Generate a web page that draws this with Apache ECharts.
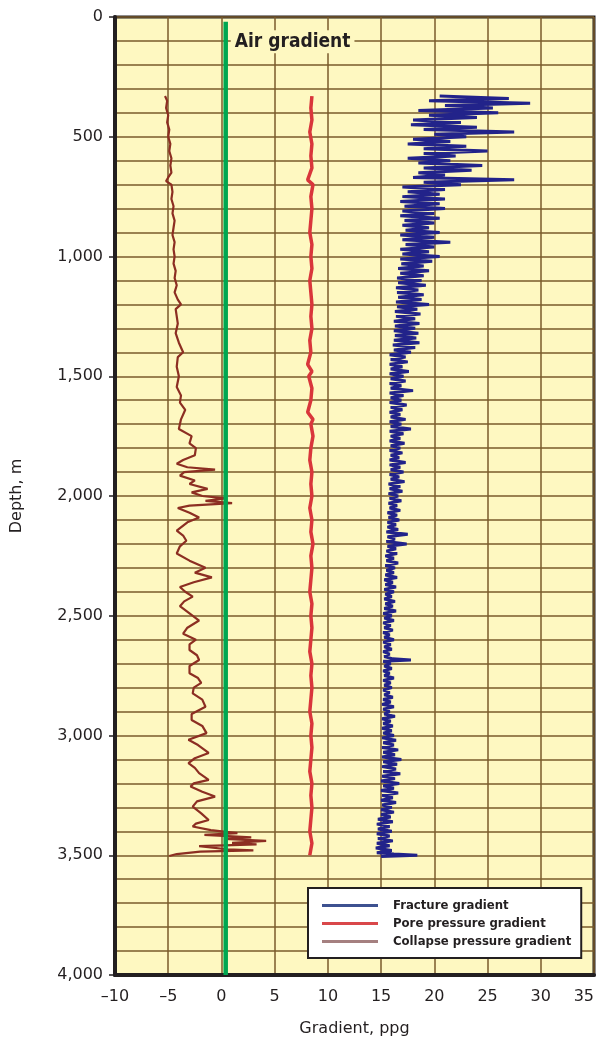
<!DOCTYPE html>
<html>
<head>
<meta charset="utf-8">
<style>
  html, body { margin: 0; padding: 0; background: #fff; }
  #chart { width: 598px; height: 1039px; }
</style>
<script src="https://cdn.jsdelivr.net/npm/echarts@6/dist/echarts.min.js"></script>
</head>
<body>
<div id="chart"></div>
<script>
// depth (m), gradient (ppg)
const collapse = [
  [330,-5.3],[350,-5.1],[380,-5.2],[410,-5.0],[440,-5.1],[470,-4.9],[500,-5.0],[530,-4.8],[560,-4.9],[590,-4.7],
  [620,-4.8],[650,-4.7],[670,-5.0],[685,-5.2],[700,-4.7],[730,-4.6],[760,-4.7],[790,-4.5],[820,-4.6],[850,-4.4],
  [880,-4.5],[910,-4.6],[940,-4.4],[970,-4.5],[1000,-4.4],[1030,-4.5],[1060,-4.3],[1090,-4.4],[1120,-4.2],[1150,-4.4],
  [1180,-4.1],[1200,-3.8],[1220,-4.3],[1250,-4.2],[1280,-4.1],[1320,-4.3],[1360,-4.0],[1400,-3.6],[1420,-4.1],[1460,-4.2],
  [1500,-4.0],[1545,-4.2],[1580,-3.8],[1610,-3.9],[1640,-3.4],[1680,-3.8],[1720,-4.0],[1750,-2.8],[1780,-3.0],[1800,-2.4],
  [1830,-2.5],[1850,-3.6],[1865,-4.2],[1880,-3.2],[1890,-0.6],[1900,-3.5],[1915,-3.9],[1935,-2.5],[1950,-3.0],[1970,-1.3],
  [1985,-2.8],[2000,-1.8],[2010,0.4],[2020,-1.5],[2030,1.0],[2040,-3.0],[2050,-4.1],[2070,-3.0],[2090,-2.1],[2110,-3.2],
  [2145,-4.2],[2165,-3.6],[2187,-3.3],[2210,-3.9],[2240,-4.2],[2270,-3.0],[2300,-1.5],[2320,-2.5],[2340,-0.9],[2360,-2.6],
  [2380,-3.9],[2400,-3.4],[2420,-2.7],[2440,-3.5],[2460,-3.9],[2490,-3.0],[2520,-2.1],[2550,-3.2],[2575,-3.6],[2600,-2.4],
  [2620,-3.0],[2643,-3.0],[2665,-2.3],[2685,-2.1],[2710,-3.0],[2740,-3.0],[2760,-2.2],[2780,-1.9],[2800,-2.6],[2824,-2.7],
  [2850,-1.8],[2880,-1.5],[2910,-2.8],[2935,-2.8],[2960,-1.8],[2990,-1.4],[3018,-3.1],[3040,-2.2],[3073,-1.2],[3095,-2.5],
  [3115,-3.1],[3135,-2.5],[3157,-2.1],[3185,-1.2],[3200,-2.6],[3213,-2.9],[3235,-1.8],[3255,-0.6],[3275,-2.3],[3297,-2.7],
  [3325,-1.9],[3353,-1.2],[3368,-2.4],[3380,-2.7],[3395,-1.0],[3408,1.5],[3415,-1.6],[3425,2.8],[3432,0.3],[3440,4.2],
  [3448,1.0],[3455,3.3],[3462,-2.1],[3475,0.5],[3480,3.0],[3485,-2.0],[3495,-4.2],[3503,-4.9]
];

const pore = [
  [330,8.5],[380,8.4],[430,8.5],[480,8.3],[530,8.5],[580,8.4],[630,8.5],[680,8.1],[700,8.6],[750,8.4],
  [800,8.5],[850,8.4],[900,8.3],[950,8.5],[1000,8.4],[1050,8.5],[1100,8.3],[1150,8.4],[1200,8.5],[1250,8.4],
  [1300,8.5],[1350,8.3],[1400,8.4],[1450,8.1],[1480,8.5],[1500,8.2],[1550,8.5],[1600,8.4],[1650,8.1],[1680,8.6],
  [1700,8.4],[1750,8.6],[1800,8.4],[1850,8.3],[1900,8.5],[1950,8.4],[2000,8.5],[2050,8.3],[2100,8.5],[2150,8.4],
  [2200,8.6],[2250,8.4],[2300,8.5],[2350,8.4],[2400,8.3],[2450,8.5],[2500,8.4],[2550,8.5],[2600,8.4],[2650,8.3],
  [2700,8.5],[2750,8.4],[2800,8.5],[2850,8.4],[2900,8.3],[2950,8.5],[3000,8.4],[3050,8.5],[3100,8.4],[3150,8.3],
  [3200,8.5],[3250,8.4],[3300,8.5],[3350,8.4],[3400,8.3],[3450,8.5],[3500,8.3]
];

const fracture = [
  [330,20.5],[340,27],[350,19.5],[360,29],[370,21],[380,25.5],[390,18.5],[400,26],[410,19.5],[420,24],
  [430,18],[440,22.5],[450,17.8],[460,24],[470,19],[480,27.5],[490,20],[500,23],[510,18],[520,21.5],
  [530,17.5],[540,23],[550,19],[560,25],[570,19],[580,22],[590,17.5],[600,21.5],[610,18.5],[620,24.5],
  [630,19],[640,23.5],[650,18.5],[660,21],[670,18],[680,27.5],[690,19],[700,22.5],[710,17],[720,21],
  [730,17.5],[740,20.5],[750,17],[760,21],[770,16.8],[780,20.5],[790,17.2],[800,21],[810,17],[820,20],
  [830,16.8],[840,20.5],[850,17.2],[860,20],[870,17],[880,19.5],[890,17.3],[900,20.5],[910,16.8],[920,20],
  [930,17],[940,21.5],[950,17.3],[960,20],[970,16.8],[980,19.5],[990,17],[1000,20.5],[1010,16.8],[1020,19.8],
  [1030,16.9],[1040,19],[1050,16.6],[1060,19.5],[1070,16.8],[1080,19],[1090,16.5],[1100,18.8],[1110,16.6],[1120,19.2],
  [1130,16.4],[1140,18.5],[1150,16.5],[1160,19],[1170,16.6],[1180,18.8],[1190,16.4],[1200,19.5],[1210,16.5],[1220,18.4],
  [1230,16.3],[1240,18.7],[1250,16.4],[1260,18.2],[1270,16.2],[1280,18.6],[1290,16.3],[1300,18.2],[1310,16.2],[1320,18.5],
  [1330,16.3],[1340,18.3],[1350,16.2],[1360,18.6],[1370,16.1],[1380,18.2],[1390,16.2],[1400,17.8],[1410,15.8],[1420,17.3],
  [1430,15.9],[1440,17.5],[1450,15.8],[1460,17],[1470,15.9],[1480,17.6],[1490,15.8],[1500,17.1],[1510,15.9],[1520,17.3],
  [1530,15.8],[1540,16.9],[1550,15.9],[1560,18],[1570,15.8],[1580,17.1],[1590,15.9],[1600,16.9],[1610,15.8],[1620,17.4],
  [1630,15.9],[1640,17],[1650,15.8],[1660,16.8],[1670,15.9],[1680,17.3],[1690,15.8],[1700,16.9],[1710,15.9],[1720,17.8],
  [1730,15.8],[1740,17.1],[1750,15.9],[1760,16.8],[1770,15.8],[1780,17.2],[1790,15.9],[1800,16.8],[1810,15.8],[1820,17],
  [1830,15.9],[1840,16.7],[1850,15.8],[1860,17.3],[1870,15.8],[1880,16.8],[1890,15.9],[1900,17.1],[1910,15.8],[1920,16.7],
  [1930,15.9],[1940,17.2],[1950,15.7],[1960,16.8],[1970,15.8],[1980,17],[1990,15.7],[2000,16.6],[2010,15.8],[2020,16.9],
  [2030,15.7],[2040,16.5],[2050,15.8],[2060,16.8],[2070,15.6],[2080,16.5],[2090,15.7],[2100,16.7],[2110,15.6],[2120,16.4],
  [2130,15.6],[2140,16.6],[2150,15.5],[2160,17.5],[2170,15.6],[2180,16.3],[2190,15.5],[2200,17.4],[2210,15.6],[2220,16.4],
  [2230,15.5],[2240,16.5],[2250,15.4],[2260,16.2],[2270,15.5],[2280,16.6],[2290,15.4],[2300,16.3],[2310,15.5],[2320,16.2],
  [2330,15.4],[2340,16.5],[2350,15.3],[2360,16.1],[2370,15.4],[2380,16.4],[2390,15.3],[2400,16.2],[2410,15.4],[2420,16],
  [2430,15.3],[2440,16.3],[2450,15.4],[2460,16.1],[2470,15.3],[2480,16.4],[2490,15.2],[2500,16],[2510,15.3],[2520,16.2],
  [2530,15.2],[2540,15.9],[2550,15.3],[2560,16.1],[2570,15.2],[2580,15.8],[2590,15.3],[2600,16.2],[2610,15.2],[2620,15.9],
  [2630,15.3],[2640,16],[2650,15.2],[2660,15.8],[2670,15.3],[2680,16.1],[2685,17.8],[2690,15.2],[2700,15.9],[2710,15.3],[2720,16],
  [2730,15.2],[2740,15.8],[2750,15.3],[2760,16.2],[2770,15.2],[2780,15.9],[2790,15.3],[2800,16],[2810,15.2],[2820,15.8],
  [2830,15.3],[2840,16.1],[2850,15.2],[2860,15.9],[2870,15.1],[2880,16.2],[2890,15.2],[2900,15.8],[2910,15.3],[2920,16.3],
  [2930,15.1],[2940,15.9],[2950,15.2],[2960,16.1],[2970,15.1],[2980,16],[2990,15.2],[3000,16.2],[3010,15.1],[3020,16.4],
  [3030,15.2],[3040,16.2],[3050,15.1],[3060,16.6],[3070,15.2],[3080,16.3],[3090,15.1],[3100,16.9],[3110,15.2],[3120,16.5],
  [3130,15.1],[3140,16.4],[3150,15.2],[3160,16.8],[3170,15.1],[3180,16.3],[3190,15.0],[3200,16.7],[3210,15.2],[3220,16.2],
  [3230,15.0],[3240,16.6],[3250,15.1],[3260,16.1],[3270,15.0],[3280,16.4],[3290,15.1],[3300,16],[3310,15.0],[3320,16.2],
  [3330,15.0],[3340,15.9],[3350,14.7],[3360,16.1],[3370,14.6],[3380,15.8],[3390,14.7],[3400,16],[3410,14.6],[3420,15.8],
  [3430,14.7],[3440,16.1],[3450,14.6],[3460,15.8],[3470,14.5],[3480,16],[3490,14.6],[3495,16.2],[3500,18.4],[3505,15.0]
];

const airGradient = [[20, 0.4], [4000, 0.4]];

const seriesNames = ['Fracture gradient', 'Pore pressure gradient', 'Collapse pressure gradient'];
const legendColors = ['#3d5190', '#d9474a', '#a58080'];

const toXY = (rows) => rows.map(r => [r[1], r[0]]);

const chart = echarts.init(document.getElementById('chart'));

const condensed = '"DejaVu Sans Condensed", "Liberation Sans", sans-serif';
const axisText = { color: '#231f20', fontFamily: '"DejaVu Sans", sans-serif', fontSize: 16 };
const gridLine = { color: '#7a5b2b', width: 1.5 };

chart.setOption({
  animation: false,
  textStyle: { fontFamily: '"DejaVu Sans", sans-serif' },
  grid: {
    left: 115, right: 4, top: 17, bottom: 64,
    outerBoundsMode: 'none',
    show: true,
    backgroundColor: '#fef8c1',
    borderColor: '#231f20',
    borderWidth: 3
  },
  xAxis: {
    type: 'value',
    min: -10, max: 35, interval: 5,
    name: 'Gradient, ppg',
    nameLocation: 'middle',
    nameGap: 46,
    nameTextStyle: axisText,
    axisLine: { onZero: false, lineStyle: { color: '#231f20', width: 4 } },
    axisTick: { show: false },
    axisLabel: {
      ...axisText,
      margin: 14,
      alignMaxLabel: 'right',
      formatter: v => v < 0 ? '\u2013' + Math.abs(v) : String(v)
    },
    splitLine: { show: true, lineStyle: gridLine }
  },
  yAxis: {
    type: 'value',
    inverse: true,
    min: 0, max: 4000, interval: 500,
    name: 'Depth, m',
    nameLocation: 'middle',
    nameGap: 90,
    nameTextStyle: axisText,
    axisLine: { onZero: false, lineStyle: { color: '#231f20', width: 4 } },
    axisTick: { show: true, length: 6, lineStyle: { color: '#231f20', width: 1.5 } },
    axisLabel: { ...axisText, margin: 12, formatter: v => echarts.format.addCommas(v) },
    splitLine: { show: true, lineStyle: gridLine },
    minorTick: { show: false, splitNumber: 5 },
    minorSplitLine: { show: true, lineStyle: gridLine }
  },
  legend: {
    orient: 'vertical',
    left: 308, top: 888,
    backgroundColor: '#ffffff',
    borderColor: '#231f20',
    borderWidth: 2,
    borderRadius: 0,
    padding: [11, 10, 10, 14],
    itemGap: 5,
    itemWidth: 56,
    itemHeight: 3,
    icon: 'rect',
    textStyle: {
      fontFamily: condensed,
      fontWeight: 'bold',
      fontSize: 13,
      color: '#231f20',
      padding: [0, 0, 0, 10]
    },
    data: seriesNames.map((n, i) => ({ name: n, itemStyle: { color: legendColors[i] } }))
  },
  series: [
    {
      name: 'Air gradient',
      type: 'line',
      symbol: 'circle',
      symbolSize: 0.1,
      showSymbol: true,
      itemStyle: { color: '#00a651' },
      lineStyle: { color: '#00a651', width: 4.5 },
      z: 5,
      data: toXY(airGradient).map((p, i) => i === 0 ? {
        value: p,
        label: {
          show: true,
          position: 'right',
          offset: [0, 20],
          formatter: 'Air gradient',
          fontFamily: condensed,
          fontWeight: 'bold',
          fontSize: 19,
          color: '#231f20',
          backgroundColor: '#fef8c1',
          padding: [2, 4, 2, 4]
        }
      } : p)
    },
    {
      name: seriesNames[0],
      type: 'line',
      symbol: 'none',
      lineStyle: { color: '#22238a', width: 3 },
      data: toXY(fracture)
    },
    {
      name: seriesNames[1],
      type: 'line',
      symbol: 'none',
      lineStyle: { color: '#d9363b', width: 3.5 },
      data: toXY(pore)
    },
    {
      name: seriesNames[2],
      type: 'line',
      symbol: 'none',
      lineStyle: { color: '#8c2e22', width: 2.2 },
      data: toXY(collapse)
    }
  ]
});
</script>
</body>
</html>
